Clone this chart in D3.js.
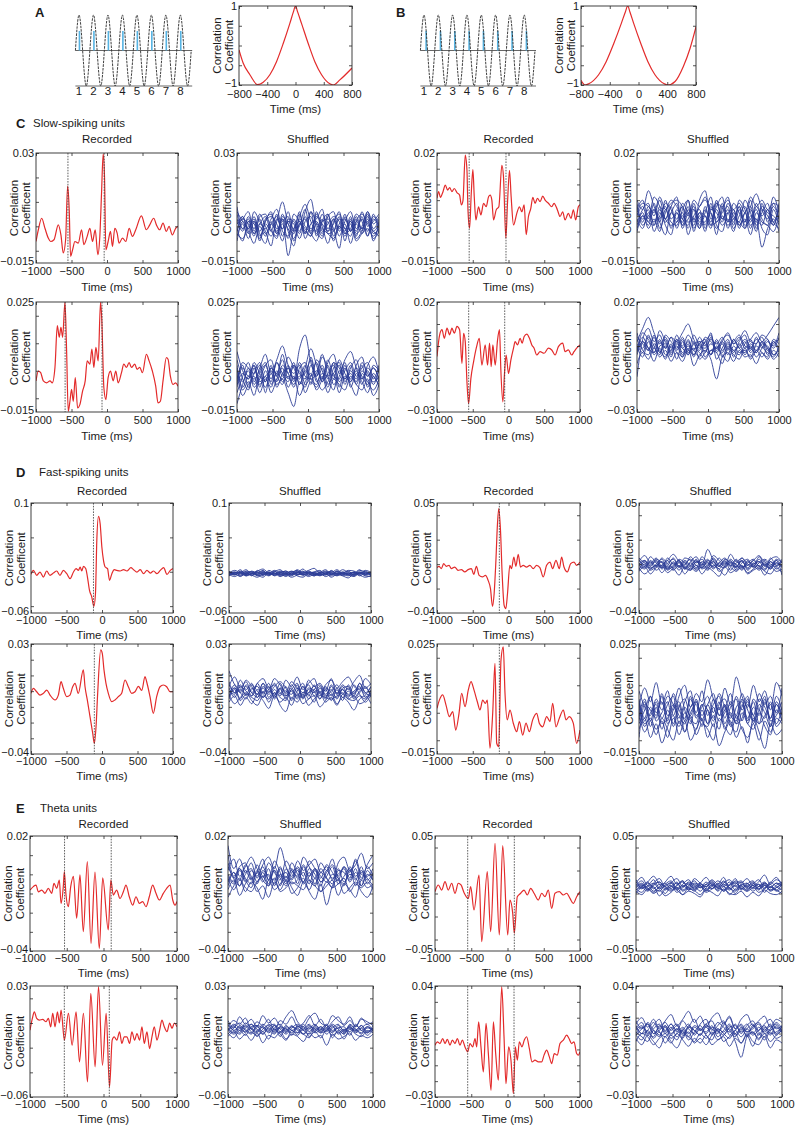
<!DOCTYPE html>
<html><head><meta charset="utf-8">
<script src="https://cdn.jsdelivr.net/npm/d3@7"></script>
<style>
body{margin:0;background:#fff;}
svg{display:block;}
</style></head><body>
<svg id="fig" width="796" height="1127"></svg>
<script>
// ================= DATA =================
// Panels A & B (schematic)
const cycleNumbers = [1,2,3,4,5,6,7,8];
const sinePhase = [0.75,1,1.25,1.5,1.75,2,2.25,2.5,2.75,3,3.25,3.5,3.75,4,4.25,4.5,4.75,5,5.25,5.5,5.75,6,6.25,6.5,6.75,7,7.25,7.5,7.75,8,8.25,8.5,8.75];
const sineValue = [0,1,0,-1,0,1,0,-1,0,1,0,-1,0,1,0,-1,0,1,0,-1,0,1,0,-1,0,1,0,-1,0,1,0,-1,0];
const spikeCyclesA = [1.03,2.03,3.03,4.03,5.03,6.03,7.03,8.03];
const spikeCyclesB = [1.15,2.15,3.15,4.15,5.15,6.15,7.15,8.15];
const spikeHeight = 0.55;
const corrA = [[-800,-0.11],[-740,-0.45],[-646,-0.74],[-538,-0.99],[-457,-0.93],[-363,-0.74],[-269,-0.41],[-174,0.05],[-80,0.56],[-30,0.85],[0,1],[30,0.85],[85,0.56],[180,0.05],[274,-0.41],[369,-0.74],[486,-0.97],[534,-1],[628,-0.87],[800,-0.57]];
const corrB = [[-800,-0.88],[-743,-1],[-693,-0.97],[-555,-0.74],[-450,-0.41],[-344,0.05],[-239,0.56],[-183,0.85],[-150,1],[-119,0.85],[-67,0.56],[32,0.05],[131,-0.41],[229,-0.74],[359,-0.97],[406,-1],[509,-0.91],[624,-0.53],[718,-0.07],[800,0.47]];
const abXTicks = [-800,-400,0,400,800];
const abXTickLabels = ["\u2212800","\u2212400","0","400","800"];
const abYTickLabels = ["1","\u22121"];

// Panels C-E: time ticks
const xTicks = [-1000,-500,0,500,1000];
const xTickLabels = ["\u22121000","\u2212500","0","500","1000"];
const VALUE_UNIT = 0.001; // trace values below are in units of 1e-3

// Recorded traces [time ms, value x1e-3]
const recC11 = [[-1000,-6.2],[-967,-1.4],[-920,3.3],[-874,-0.8],[-827,-4.8],[-794,-6.2],[-747,-5.5],[-686,0.6],[-649,-3.5],[-616,-10.9],[-583,-5.5],[-555,16.5],[-532,6.7],[-513,-12.3],[-485,-9.6],[-452,-6.2],[-405,-6.9],[-358,-1.4],[-326,-7.5],[-279,-4.1],[-241,-0.8],[-204,-6.2],[-166,-1.4],[-129,-11.6],[-101,-4.1],[-77,13.5],[-54,29.7],[-35,20.2],[-16,-9.6],[16,-6.2],[49,-2.1],[77,-8.2],[110,-0.8],[143,-2.8],[171,-6.9],[218,-4.8],[265,-6.2],[312,-0.8],[358,-4.1],[405,-1.4],[485,4.3],[555,-1.4],[602,0.6],[658,3.3],[696,0.6],[742,-1.4],[789,1.3],[836,-2.1],[874,0],[920,-3.5],[967,-0.8],[1000,0]];
const recC13 = [[-1000,5.6],[-977,7.7],[-953,5.9],[-916,7.7],[-884,9.8],[-851,8.2],[-823,9],[-791,7.7],[-758,8.7],[-721,7.4],[-684,6.6],[-660,3.5],[-637,4.8],[-605,19.3],[-581,14.5],[-567,1.9],[-544,-3.9],[-521,7.1],[-498,14.7],[-479,6.1],[-456,-1.3],[-419,2.9],[-386,0.3],[-349,4],[-312,2.9],[-279,6.1],[-256,6.6],[-233,5],[-209,-1.3],[-172,1.9],[-135,2.9],[-93,16.1],[-70,12.4],[-37,-7.1],[-14,4],[14,14.5],[37,6.1],[70,-2.9],[116,0.8],[153,2.9],[186,1.3],[219,3.5],[247,-6],[279,-0.2],[312,2.4],[340,5.9],[372,4],[405,5.6],[442,4.5],[479,6.3],[512,5],[558,4],[605,2.9],[637,4],[684,1.9],[721,-0.2],[758,1.3],[791,-1.3],[837,0.8],[874,-0.8],[907,1.9],[940,-1.3],[977,2.9],[1000,3.5]];
const recC21 = [[-1000,-3.7],[-967,-0.1],[-934,-0.7],[-897,-3.7],[-850,-4.4],[-803,-3.7],[-771,-4.4],[-733,1.2],[-700,16.4],[-672,12.2],[-649,15.8],[-625,12.2],[-592,25],[-569,7.3],[-546,-14.7],[-522,-11.1],[-499,-6.8],[-475,-11.1],[-447,-2.5],[-414,-13.5],[-382,-12.3],[-344,-7.4],[-307,-3.7],[-279,3.6],[-241,2.4],[-213,7.9],[-185,1.2],[-157,8.5],[-124,3.6],[-91,25],[-73,18.3],[-44,-6.2],[-16,-10.5],[16,-2.5],[49,-0.1],[87,-3.7],[124,-0.1],[157,-4.4],[204,-0.7],[237,2.4],[274,1.2],[312,3],[344,1.2],[391,2.4],[424,0.5],[461,1.2],[499,-0.7],[555,6],[593,3.6],[639,-0.1],[686,-5.6],[719,-11.7],[752,-11.1],[789,-3.7],[836,4.8],[860,4.2],[892,-1.9],[930,-5],[967,-4.4],[1000,-5.6]];
const recC23 = [[-1000,-4.8],[-963,5.1],[-930,7.4],[-898,3.5],[-860,8.1],[-823,5.1],[-791,8.1],[-758,5.8],[-721,8.9],[-684,7.4],[-651,-7.9],[-628,5.8],[-605,2],[-581,-16.3],[-558,-26.2],[-526,-14.7],[-488,-7.1],[-451,-1],[-409,3.5],[-372,-8.7],[-326,0.5],[-293,-8.7],[-265,1.3],[-242,-9.4],[-219,0.5],[-186,-8.7],[-153,2.8],[-126,7.4],[-107,-10.9],[-79,-25.4],[-56,-12.5],[-33,-4.1],[0,-12.5],[33,-6.4],[70,-1],[93,2],[126,0.5],[163,3.5],[191,1.3],[219,4.3],[256,5.4],[293,3.5],[326,0.5],[358,-1],[395,-4.1],[442,-2.6],[498,-3.3],[558,-1],[605,-1.8],[651,-4.1],[698,-0.3],[758,1.3],[791,-2.6],[837,-1.8],[884,-4.1],[916,-2.6],[953,-1],[1000,0.5]];
const recD11 = [[-1000,-3.8],[-967,2],[-920,-5.2],[-873,-0.4],[-826,-7.7],[-779,1.1],[-732,-5.2],[-685,-1.9],[-638,1.1],[-591,-5.2],[-544,2],[-496,-2.8],[-449,-10.1],[-402,-0.4],[-365,4.5],[-332,2],[-308,6.9],[-285,1.1],[-261,7.9],[-228,4.5],[-205,-7.7],[-176,-27.1],[-144,-36.8],[-115,-50.4],[-92,-31.9],[-73,45.7],[-49,80.6],[-26,69.9],[-2,36],[21,16.6],[45,6.9],[78,4.5],[106,-12.5],[139,-2.8],[172,3],[209,2],[256,1.1],[304,3],[351,1.1],[407,5.9],[445,3],[492,-0.4],[539,3],[586,-2.8],[633,2],[680,-1.9],[727,1.1],[774,-2.8],[821,2],[868,5.9],[915,-3.8],[962,2],[1000,4.5]];
const recD13 = [[-1000,-2.9],[-972,-1.8],[-939,-3.7],[-907,0.4],[-869,-1.8],[-832,-1],[-799,-3.7],[-752,-2.4],[-706,-5.1],[-659,-4.5],[-612,-6.4],[-565,-4.5],[-519,-3.7],[-486,-8.4],[-449,-1.8],[-411,-9.2],[-364,-10.5],[-322,-9.2],[-285,-13.3],[-252,-20.1],[-224,-34.5],[-201,-24.2],[-178,0.4],[-154,33.1],[-136,45.4],[-112,27.6],[-89,-7.8],[-61,-33.7],[-37,-36.4],[-14,-24.2],[19,-1],[42,-3.7],[75,5.8],[103,-1.8],[136,8],[168,-2.4],[206,-1],[252,-2.4],[299,-1],[346,-3.7],[393,-1],[439,-2.9],[486,-10.5],[533,-1],[580,1.7],[617,-3.7],[664,3.1],[711,-3.7],[743,5.8],[776,-2.4],[823,-6.4],[869,0.4],[916,1.7],[953,-1],[1000,1.7]];
const recD21 = [[-1000,-1.4],[-967,1.8],[-920,-0.4],[-873,-2.5],[-826,-1.4],[-779,0.7],[-732,-2.5],[-662,-5.6],[-615,-2.5],[-577,6],[-545,1.8],[-497,-3.5],[-451,-2.5],[-413,2.8],[-380,5],[-334,-1.4],[-263,13.5],[-239,2.8],[-207,-5.6],[-169,-16.2],[-131,-26.8],[-108,-33.2],[-84,-22.6],[-61,-1.4],[-18,26.2],[4,24],[28,13.5],[56,5],[89,-1.4],[137,-6.7],[183,-5.6],[230,-3.5],[277,-1.4],[324,7.1],[371,2.8],[418,-1.4],[465,-0.4],[512,3],[560,0.5],[606,9.2],[629,6],[676,-3.5],[723,-14.1],[770,-3.5],[817,2.8],[863,3.9],[911,2.8],[958,-0.4],[1000,-0.4]];
const recD23 = [[-1000,1.6],[-967,4.6],[-920,6.5],[-874,2.8],[-828,-1.4],[-780,0.4],[-738,-6.3],[-692,-0.2],[-655,7.1],[-608,2.2],[-562,8.3],[-524,11.3],[-483,8.3],[-436,4],[-399,1],[-361,4.6],[-324,3.4],[-296,4.6],[-259,-12.9],[-221,-0.2],[-189,18],[-165,-11.1],[-137,-12.3],[-105,19.2],[-73,24],[-49,7.1],[-17,-2.6],[21,1],[67,-3.8],[115,-6.9],[152,-3.2],[199,-8.1],[245,-3.8],[291,-6.9],[338,-2.6],[394,-0.2],[431,-3.8],[478,-5.1],[534,-1.4],[580,-3.2],[618,3.4],[664,-5.1],[711,-2],[767,1],[804,-2.6],[850,-1.4],[906,-3.8],[953,-11.1],[1000,-6.3]];
const recE11 = [[-1000,-8.2],[-955,-6.4],[-918,-5.6],[-887,-9.1],[-841,-8.2],[-796,-9.9],[-751,-7.3],[-705,-9.9],[-673,-4.7],[-637,-7.3],[-601,-3],[-578,-15.1],[-547,-6.4],[-533,1.4],[-510,-10.8],[-479,-16.9],[-446,-6.4],[-410,-1],[-365,-22.9],[-320,-0.3],[-275,-29.9],[-220,6.6],[-170,-36],[-116,1.2],[-57,-38.7],[-11,-1.9],[65,-29],[100,-3],[133,-10.8],[179,-8.2],[224,-12.6],[270,-9.1],[306,-5.6],[351,-11.7],[397,-16.1],[442,-11.7],[487,-15.1],[533,-14.2],[578,-16.9],[623,-11.7],[669,-5.6],[714,-9.9],[759,-13.4],[814,-9.9],[860,-7.3],[905,-5.6],[942,-13.4],[973,-16.1],[1000,-14.2]];
const recE13 = [[-1000,1.6],[-954,7.4],[-908,3],[-862,10.3],[-817,3],[-770,8.9],[-724,0.2],[-679,8.9],[-641,7.4],[-596,0.2],[-541,-4.3],[-508,5.9],[-462,-14.3],[-393,16.1],[-356,-41.9],[-279,19],[-232,-33.2],[-172,43.6],[-113,-36.1],[-66,41.6],[3,-36.1],[34,-5.7],[72,-17.3],[94,-34.6],[135,-2.8],[182,0.2],[228,3],[273,-1.3],[320,4.5],[366,0.2],[424,-5.7],[472,0.2],[517,-2.8],[563,3],[609,-12.9],[655,0.2],[714,1.6],[770,-1.3],[816,0.2],[862,-4.3],[908,-8.6],[954,-2.8],[1000,1.6]];
const recE21 = [[-1000,-5.8],[-968,3.7],[-941,9.1],[-909,3.7],[-873,2.3],[-827,2.9],[-782,1],[-750,3.7],[-718,-3.1],[-691,7.8],[-659,-3.1],[-627,9.1],[-600,0],[-577,10.5],[-532,-13.9],[-477,7.8],[-427,-18],[-373,9.1],[-327,-31.5],[-273,7.8],[-218,-47.8],[-173,24],[-114,-35.6],[-68,29.5],[-14,-34.3],[36,7.8],[82,-51.9],[118,-13.9],[145,-11.2],[182,-13.9],[218,-7.1],[250,-16.6],[282,-11.2],[318,-11.2],[355,-16.6],[386,-7.1],[423,-13.9],[455,-8.5],[491,-13.9],[523,-3.1],[555,-16.6],[591,-7.1],[627,-20.7],[659,-11.2],[691,-3.1],[727,-13.9],[764,-5.8],[795,2.3],[827,-3.1],[864,-7.1],[900,0],[932,-4.4],[964,0],[1000,-3.1]];
const recE23 = [[-1000,2.7],[-968,4.8],[-931,3.7],[-894,6.9],[-862,3.7],[-830,6.3],[-793,2.7],[-761,5.9],[-724,3.7],[-692,6.9],[-655,2.7],[-623,5.9],[-586,1.6],[-549,-1.5],[-517,3.7],[-480,1.6],[-448,6.9],[-425,1.6],[-398,17.4],[-366,1.6],[-333,-14.2],[-296,16.4],[-264,-2.6],[-227,-25.8],[-195,17.4],[-163,-2.6],[-126,-19.4],[-80,39.6],[-48,8],[-21,-21.6],[16,1.6],[48,-6.8],[81,-27.9],[108,1.6],[136,-6.8],[163,4.8],[200,1.6],[232,5.9],[264,8],[301,0.6],[338,-7.9],[379,-6.8],[425,-7.9],[471,-7.9],[504,-3.6],[540,-0.5],[577,-4.7],[609,-8.9],[646,-2.6],[687,-3.6],[724,3.7],[770,5.9],[816,9],[848,6.9],[885,3.7],[917,4.8],[954,-2.6],[977,-3.6],[1000,-1.5]];

// Shuffled traces: values x1e-3 at shufTimes
const shufTimes = [-1000,-920,-840,-760,-680,-600,-520,-440,-360,-280,-200,-120,-40,40,120,200,280,360,440,520,600,680,760,840,920,1000];
const shufC12 = [
[3,-2,4,-1,5,0,-4,2,10,1,-3,4,9,2,-2,5,-1,3,-4,2,6,-1,3,-2,4,1],
[-4,1,-5,2,-3,-7,1,-2,3,-12,-1,2,-3,6,1,-4,2,-6,1,3,-2,4,-1,5,-3,-1],
[6,2,-1,4,-2,3,5,-1,2,4,-6,1,3,-2,4,0,-7,2,5,-1,2,-4,6,0,2,5],
[-1,-6,2,-3,1,-2,-8,3,-1,2,1,-5,2,4,-3,2,3,-1,-9,4,-2,1,-3,2,-5,-2],
[1,4,-3,6,2,-1,3,7,-2,-4,5,2,-1,-4,6,-2,1,4,2,-3,-1,5,2,-4,3,0],
[-2,3,1,-4,4,5,-1,-5,4,1,-2,6,-5,1,3,7,-3,-2,4,-6,3,-3,0,6,-1,3],
[8,-1,2,1,-5,2,4,1,-6,3,2,-3,6,11,-1,-5,4,6,-2,1,-7,2,5,1,-2,-4],
[-6,2,-2,-7,0,-4,2,-3,5,-2,-8,3,0,-3,-6,2,5,-4,0,-2,4,-5,-2,3,-6,2],
[-2,4,-1,3,-4,2,6,-3,1,-5,3,-2,4,-1,2,-3,5,-2,3,-1,-4,2,-1,4,-2,1],
[5,-1,3,-3,1,4,-2,5,-4,2,-1,5,-3,6,-4,3,-2,1,6,-3,2,-2,4,-4,5,-3],
[-3,-5,0,2,-6,1,-2,-4,3,-1,-5,1,-2,-4,1,-1,-3,-5,0,-4,1,-6,-3,-1,-4,0],
[1,3,6,-2,3,-3,1,4,-1,6,-2,0,7,-3,5,1,-2,3,-1,5,-2,3,-2,6,1,4]];
const shufC14 = [
[2,5,-1,6,3,-2,1,4,-3,2,-1,3,5,1,-4,2,6,-1,3,-2,5,-3,1,4,-2,3],
[-3,1,-4,-1,-5,2,-2,-3,1,-4,2,-1,-2,4,-3,-5,1,2,-4,1,-3,-1,-10,-4,-1,-5],
[5,2,8,3,-1,4,2,-2,4,1,-3,5,8,-1,3,6,-2,4,1,-2,3,7,2,-1,6,1],
[-1,-4,1,-2,2,-3,-6,1,-2,3,-4,0,-5,2,1,-3,-1,-5,2,-3,-1,2,-4,-6,2,-3],
[0,3,-2,4,-4,1,5,3,-1,-3,4,-2,1,6,-2,1,3,-3,5,2,-4,3,0,2,-3,4],
[4,-2,3,0,5,-1,3,6,-4,1,2,-4,3,-3,2,-2,4,0,-2,5,1,-5,4,-2,3,-1],
[-5,0,-3,2,-2,-6,1,-1,3,-6,0,2,-4,1,-6,3,-4,1,-3,-1,-6,1,-2,-3,-5,0],
[1,-1,2,-5,0,3,-4,2,-1,5,-5,1,0,-4,4,-1,2,-2,3,-4,2,-2,3,1,0,-2],
[-2,2,4,-3,1,-1,3,-4,2,5,-2,1,-3,3,-1,4,-2,2,-3,1,3,-4,2,0,-3,2],
[3,-3,0,2,-2,5,-1,1,-3,-1,3,-3,2,-2,5,-1,1,-4,0,3,-2,4,-1,-3,4,-1],
[-4,0,-2,-3,3,-1,-3,-2,0,-2,-1,-4,0,-3,-2,0,-3,-1,-2,-4,0,-1,-3,2,-2,-4],
[1,4,3,1,6,2,4,5,3,0,5,3,6,2,4,3,5,2,4,1,6,3,5,2,4,3]];
const shufC22 = [
[-8,-2,3,-4,1,6,-1,4,9,2,-3,8,13,3,-2,5,1,-3,4,-1,-4,2,5,-2,1,-3],
[4,-3,-7,1,-5,-2,-8,-3,1,-6,-2,-9,-4,-1,-7,-3,2,-5,-2,3,-6,-1,-4,-8,-2,-6],
[-12,-5,0,-6,-3,2,4,-2,6,-1,3,-5,1,8,2,-4,3,6,-1,4,7,1,-3,2,5,-1],
[2,-7,-4,-9,-2,-6,-1,-5,-3,-8,-13,-4,-6,2,-3,-7,-4,-1,-8,-2,-5,-9,-1,-4,-7,-3],
[-4,1,-2,2,-6,0,-4,3,-2,5,1,-3,2,-5,4,0,-6,1,3,-4,1,4,-3,0,-5,1],
[7,0,-3,3,-1,-4,2,-6,-1,1,-4,3,-2,-3,-1,6,-2,-7,0,-3,-1,-4,2,-6,-1,-4],
[-1,-9,-5,-2,-8,-3,-6,0,-4,-2,-6,0,-8,-4,-6,-2,-8,-3,-5,-7,-2,-5,-7,-3,-9,-5],
[-6,3,1,-1,2,-8,1,-1,4,-3,2,-1,-3,5,-2,2,-3,3,-4,0,3,-2,1,3,-3,2],
[-3,2,-6,-1,3,-4,1,-2,-5,1,-1,2,-5,-2,3,-4,-1,2,-6,1,-3,1,-2,-5,2,0],
[0,-4,1,-5,-1,2,-3,3,-1,-4,2,-5,0,-3,-5,1,-5,-1,2,-5,0,-3,3,-1,-4,-2],
[-5,-1,-3,2,-4,-2,0,-4,2,-1,-5,1,3,-2,0,-3,4,-2,-3,2,-4,0,-5,1,-2,-5],
[1,-6,-2,-3,0,3,-5,-1,-3,2,-3,-2,-1,4,-4,-1,-2,3,1,-3,2,-5,0,-2,1,-3]];
const shufC24 = [
[2,8,13,6,1,4,-1,3,0,5,1,-2,4,2,-1,3,5,1,4,-1,3,6,2,5,9,13],
[-8,-3,-6,-1,-5,-2,-7,-3,-5,-1,-9,-4,-2,-6,-15,-5,-3,-7,-2,-5,-4,-8,-3,-6,-2,-5],
[-14,3,8,2,5,-1,4,2,6,10,3,-1,2,5,-3,2,6,1,3,7,2,1,5,3,-1,4],
[0,-5,2,-4,-1,-6,0,-3,-7,-2,-4,1,-5,-2,-3,-8,-1,-4,-6,-1,-6,-2,-5,-1,-6,-3],
[4,1,-2,5,-3,3,-4,1,-1,-4,2,-6,-3,1,-1,2,-2,3,-1,-3,1,-2,2,-4,3,1],
[-3,6,3,-1,7,2,-2,5,-1,2,-2,4,0,6,-6,-1,3,-3,2,5,-2,4,-1,2,0,6],
[6,-2,-4,1,-2,-5,1,-6,2,-3,-1,-3,-6,-2,-1,-4,-7,0,-3,-2,-5,0,-3,-5,2,-3],
[-2,2,-1,-7,0,1,-3,2,-4,1,-5,2,1,-4,3,-2,1,-2,0,3,-1,-3,1,0,-4,-1],
[3,-1,5,-3,2,-1,4,-2,3,-4,1,2,-3,4,-2,1,-4,3,-1,2,-3,1,4,-2,1,3],
[-4,2,-2,4,-3,0,-5,3,-3,0,-2,-5,2,-4,0,-3,2,-5,1,-4,0,-5,-1,3,-4,-2],
[1,-3,4,0,-4,5,2,-1,4,-2,5,0,-1,3,1,4,-1,2,5,0,-1,3,0,-3,2,-1],
[-2,4,-1,-3,3,-4,-2,0,-5,3,-4,1,3,-4,2,-5,0,-2,-4,1,3,-3,2,-1,-5,0]];
const shufD12 = [
[0,-2,3,-4,1,-1,2,-5,0,3,-3,1,-1,4,-2,0,2,-4,1,-2,3,-1,-4,2,0,-3],
[-6,-3,-7,-2,-5,-8,-3,-6,-2,-7,-4,-8,-5,-3,-7,-4,-6,-2,-8,-4,-6,-9,-3,-5,-8,-5],
[-2,2,-1,3,-3,1,4,-2,2,-1,1,-3,3,-1,2,5,-2,1,-1,3,-2,2,1,-3,2,-1],
[-4,-7,-3,-6,-2,-5,-8,-1,-5,-3,-7,-2,-6,-8,-3,-6,-2,-7,-4,-6,-3,-5,-7,-2,-6,-7],
[1,-4,0,-1,-6,2,-2,0,-4,1,-1,-5,0,-2,1,-3,-1,3,-3,0,-5,0,-2,3,-4,0],
[-3,0,-5,1,-1,-3,0,-3,1,-5,-1,0,-3,-4,0,-2,-5,-1,-2,-5,0,-3,-1,-6,-2,-3],
[-5,-1,-2,-3,0,-6,-4,-1,-6,-2,1,-4,-2,1,-5,-1,0,-3,-6,1,-4,-6,0,-3,1,-6],
[-1,-5,1,-6,-3,0,-6,2,-2,-4,-5,-1,2,-6,-1,-4,-3,-5,2,-3,-2,1,-5,-1,-3,-2],
[-2,-4,-1,-5,-3,-1,-4,-2,-5,0,-3,-6,-1,-4,-2,-5,-3,0,-4,-2,-5,-3,-1,-4,-2,-5],
[-4,-1,-3,0,-5,-3,1,-4,-3,-1,-5,-2,-4,0,-3,-6,-1,-3,-4,1,-3,-2,-5,0,-4,-1],
[-1,-3,-6,-2,0,-4,-2,-5,0,-3,-2,-4,1,-3,-5,-1,-4,-2,0,-5,-2,-4,-3,-1,-5,-3],
[-5,-2,-1,-4,-3,-5,-1,-3,-2,-6,-3,0,-4,-2,-1,-3,-5,-4,-2,-3,-1,-4,-6,-2,-1,-4]];
const shufD14 = [
[4,-2,6,1,-3,5,0,3,-4,2,6,-1,12,3,-2,4,1,-3,5,0,-2,6,2,-3,4,1],
[-6,-2,-8,-3,-1,-7,-4,-9,-2,-5,-1,-8,-3,-6,-10,-2,-7,-4,-1,-8,-5,-3,-9,-2,-6,-4],
[2,7,1,5,-2,3,8,2,-1,6,1,4,-2,7,3,-1,8,2,5,-1,3,7,-2,4,6,1],
[-3,-8,-4,-1,-7,-2,-5,-1,-8,-3,-6,-2,-5,-1,-4,-9,-3,-6,-2,-7,-4,-1,-6,-8,-3,-7],
[0,3,-2,4,1,-4,2,-3,3,-1,-4,2,0,4,-1,2,-2,3,-3,1,4,-2,1,-1,3,-9],
[-1,-4,3,-2,5,0,-3,4,1,-4,2,-1,4,-3,1,5,-1,-2,3,-4,0,2,-4,5,-1,2],
[5,1,-1,2,-4,1,4,-2,5,3,-3,6,1,-2,5,0,3,-5,1,4,-3,1,4,0,-2,3],
[-4,0,-5,-2,2,-5,-1,1,-4,-1,3,-4,-1,2,-6,-2,1,0,-5,2,-1,-5,0,-4,1,-3],
[-2,3,-4,0,4,-3,1,-5,2,-2,4,-3,2,-4,1,-2,4,-1,-4,3,-2,4,-1,2,-4,0],
[1,-3,2,-5,-1,3,-4,2,-3,1,-5,0,-3,2,-2,3,-5,1,2,-3,1,-4,3,-2,1,-2],
[-5,2,0,3,-3,-1,5,-2,0,4,-1,-3,3,0,-4,1,-1,4,-2,-1,3,-2,-5,2,-1,4],
[3,-1,-3,-1,2,-4,-2,3,-3,-5,2,1,-4,5,-1,-3,2,-2,3,-5,0,2,-1,-4,3,-2]];
const shufD22 = [
[3,9,2,6,-1,5,8,2,4,-2,7,3,9,1,5,8,-1,4,7,2,6,9,3,1,8,4],
[-7,-3,-9,-4,-8,-2,-6,-11,-3,-7,-4,-9,-2,-8,-5,-3,-10,-6,-2,-8,-4,-7,-12,-5,-3,-8],
[13,4,0,7,3,-2,5,1,8,4,-1,6,2,-3,7,3,5,0,8,-2,4,1,6,10,2,5],
[-2,-8,-4,-1,-6,-9,-3,-5,-1,-9,-13,-4,-7,-2,-9,-5,-1,-7,-4,-9,-2,-5,-3,-8,-6,-1],
[0,-2,4,-3,1,3,-4,0,-2,1,-3,0,-4,3,-1,1,-3,2,-1,-4,1,-2,0,3,-4,0],
[-4,2,-1,3,-3,1,-1,5,-5,2,0,-2,4,-5,1,-1,3,-3,0,4,-2,2,-5,-1,2,-3],
[6,-1,7,1,5,-4,2,-2,3,6,2,-6,0,5,-3,4,-5,1,-6,1,-6,4,-2,5,-1,3],
[-5,1,-6,-2,-4,-6,0,-7,-1,-4,-6,1,-5,-1,-2,-7,2,-4,-5,-3,-1,-5,-6,-3,-7,-2],
[-3,4,-1,-5,2,-2,5,-4,1,-3,3,-5,2,-1,4,-3,0,-5,3,-2,1,-4,4,-2,-5,1],
[2,-4,3,0,-3,5,-2,3,-4,2,-5,4,-1,-4,2,0,-5,3,-3,2,-4,0,-3,5,-1,-3],
[-1,2,-5,4,-1,-4,3,-1,5,-1,-3,1,5,-4,-1,3,-2,-4,4,-1,3,-3,-1,2,-2,3],
[4,-1,1,-2,4,0,-4,1,-3,5,-2,2,-3,3,-5,1,4,-2,1,-5,2,3,-4,0,3,-4]];
const shufD24 = [
[2,9,4,11,3,8,-1,6,10,2,7,4,12,5,1,9,3,13,6,2,10,4,8,1,11,6],
[-6,-2,-9,-4,-11,-5,-1,-8,-3,-10,-6,-2,-9,-4,-12,-7,-3,-9,-5,-11,-2,-7,-13,-4,-8,-6],
[5,-2,6,0,4,-3,7,1,-2,5,0,8,-1,3,6,-2,4,-1,7,1,-3,5,2,-2,6,1],
[-3,4,-5,2,-6,1,-4,3,-7,0,3,-5,1,-3,2,-6,0,-4,3,-2,4,-4,-1,3,-5,-2],
[8,2,-1,5,1,6,3,-2,4,8,-1,2,6,0,7,2,-2,6,1,4,-1,7,3,6,0,9],
[0,-7,-3,-8,-2,-6,-10,-3,-7,-1,-8,-4,-6,-10,-2,-5,-8,-1,-6,-9,-4,-10,-3,-7,-2,-4],
[-9,3,1,-2,7,-1,2,9,1,-4,4,-1,3,7,-1,1,7,-2,2,6,-3,1,6,-5,3,-1],
[3,-4,-2,-6,-3,-9,-2,-5,0,-3,-6,1,-4,-1,-6,3,-4,-7,0,-4,-6,0,-5,-8,1,-3],
[-1,5,-3,4,-2,3,6,-4,2,-1,5,-3,3,-2,4,-4,2,5,-3,3,-1,-4,4,-2,3,-3],
[4,-3,2,-1,6,-4,1,4,-3,6,-2,3,-4,5,-1,3,-5,2,4,-3,5,1,-2,4,-4,2],
[-4,1,6,-3,0,4,-5,2,5,-2,-4,3,1,-5,3,5,-1,-3,5,-4,2,-1,5,-3,-1,4],
[2,-5,0,3,-4,-2,3,-1,-4,2,4,-3,-5,2,-3,0,3,-4,-2,5,-4,3,0,-5,4,-1]];
const shufE12 = [
[15,3,8,1,6,-2,5,9,3,14,4,-1,7,2,5,8,1,4,-3,6,9,2,5,11,3,6],
[-8,-3,-11,-5,-2,-9,-6,-12,-4,-8,-3,-10,-7,-2,-9,-13,-5,-16,-6,-3,-10,-7,-4,-9,-12,-6],
[2,8,-1,4,9,3,-2,6,1,-3,7,2,-1,9,4,-2,6,2,8,-1,4,1,7,-2,5,10],
[-12,-6,-2,-9,-4,-7,-13,-3,-8,-5,-1,-7,-11,-4,-8,-2,-9,-6,-3,-11,-5,-8,-12,-3,-7,-5],
[6,-2,3,-4,2,-1,4,-3,7,1,-5,3,-2,5,-1,2,-4,1,5,-2,-6,4,-1,2,-3,1],
[-4,1,-6,2,-3,5,-1,0,-5,3,-2,6,0,-4,1,-5,3,-2,-7,2,1,-3,3,-6,0,-3],
[10,-1,4,6,-2,1,8,-3,2,-6,3,-3,4,-1,7,3,-2,5,1,-3,4,-2,8,0,-1,3],
[-2,-8,-3,-7,-9,-4,-1,-6,-2,-9,-7,-4,-6,-8,-3,-6,-9,-4,-7,-5,-2,-9,-5,-7,-4,-8],
[-1,-5,2,-3,-7,1,-4,3,-6,0,-3,2,-5,4,-3,-6,1,-2,-5,3,-4,0,-2,-6,2,-3],
[4,-2,-6,0,3,-4,1,-5,2,-2,-6,1,3,-5,-1,3,-4,-1,4,-5,-1,3,-6,1,-2,-6],
[-6,1,-3,5,-1,-5,2,-1,-3,4,-4,-2,2,-4,3,0,-6,2,-2,0,3,-4,1,-3,4,-1],
[0,-4,3,-2,-5,2,-3,-6,4,-1,1,-5,-3,1,-5,3,-1,-4,0,-2,-5,2,-3,4,-5,0]];
const shufE14 = [
[9,14,7,12,5,10,15,8,11,4,13,9,6,12,8,14,5,11,9,13,7,10,16,8,12,9],
[2,-1,4,0,3,-2,1,5,-1,2,0,-3,3,1,-2,4,0,-1,2,-3,1,-2,3,0,-1,2],
[7,11,4,9,13,6,10,3,8,12,5,9,14,7,3,9,12,6,10,4,8,12,5,9,14,6],
[4,1,7,2,5,0,6,3,-1,5,2,6,1,4,8,2,5,0,6,3,7,1,4,8,2,5],
[12,6,10,15,8,3,9,13,6,10,7,2,8,11,5,10,7,13,4,8,11,6,9,3,7,10],
[0,5,2,6,-2,4,7,1,5,8,3,-1,5,9,2,6,-1,4,7,2,5,8,1,6,3,0],
[6,9,3,8,10,5,2,7,11,3,8,5,10,4,7,2,8,10,4,7,2,6,10,5,9,7],
[3,7,5,1,6,9,4,10,2,6,9,7,3,6,11,7,3,8,11,5,9,4,7,2,5,8],
[5,8,3,7,10,4,6,9,3,7,11,5,8,4,9,6,10,3,7,9,5,8,4,10,6,3],
[8,4,9,5,2,8,11,5,7,3,6,9,4,7,5,3,7,9,5,2,7,4,9,6,3,8],
[3,6,10,4,8,6,3,7,10,5,3,8,6,10,4,8,5,2,8,6,10,3,7,5,9,5],
[10,5,6,9,4,7,9,4,6,9,4,7,2,8,6,11,4,7,3,9,4,6,8,3,5,9]];
const shufE22 = [
[2,-4,5,-1,3,-3,6,0,4,-2,5,10,1,-3,4,8,0,-2,6,2,-1,5,-3,3,1,-2],
[-11,-7,-13,-9,-14,-8,-16,-10,-12,-7,-13,-9,-11,-15,-8,-12,-10,-18,-9,-13,-11,-8,-14,-10,-12,-9],
[-3,2,-1,4,-5,1,-2,3,-6,2,-1,5,-3,0,6,-2,3,-4,1,5,-2,2,-3,4,-1,1],
[-8,-12,-6,-10,-4,-11,-7,-13,-5,-9,-14,-6,-10,-3,-11,-7,-12,-5,-10,-7,-13,-5,-9,-11,-6,-8],
[-6,-2,-8,0,-4,-7,-1,-5,-9,-3,-6,-2,-8,-5,-1,-6,-3,-9,-4,-1,-7,-3,-6,-2,-8,-4],
[0,-6,-3,-8,-1,-5,-9,-3,-1,-7,-4,-10,-2,-6,-4,-8,-5,-1,-7,-4,-3,-10,-1,-6,-3,-7],
[-9,-4,0,-5,-8,-2,-4,-7,-2,-11,-3,-6,-8,-1,-7,-3,-8,-6,-2,-9,-6,-4,-7,-4,-10,-5],
[-5,-9,-4,-3,-7,-10,-5,-2,-8,-4,-8,-3,-5,-9,-12,-4,-6,-2,-12,-6,-9,-1,-5,-8,-4,-6],
[-4,-8,-2,-6,-9,-3,-7,-1,-5,-8,-2,-6,-4,-9,-3,-5,-8,-2,-6,-4,-8,-2,-5,-9,-3,-6],
[-7,-3,-6,-2,-5,-8,-3,-6,-2,-5,-9,-4,-1,-6,-9,-2,-5,-7,-3,-8,-5,-7,-2,-6,-8,-2],
[-2,-6,-9,-4,-1,-6,-3,-8,-4,-1,-7,-3,-6,-9,-5,-1,-7,-4,-8,-2,-6,-3,-8,-4,-1,-7],
[-6,-1,-4,-7,-3,-2,-9,-4,-7,-3,-5,-8,-3,-5,-2,-7,-3,-6,-1,-5,-9,-4,-6,-2,-7,-4]];
const shufE24 = [
[16,20,14,19,13,18,22,15,19,24,17,21,14,20,23,16,21,13,19,22,15,18,21,14,19,17],
[7,3,9,5,1,8,4,10,6,2,7,4,9,3,6,8,2,7,4,10,5,3,8,1,6,4],
[13,17,10,15,19,11,16,12,18,13,10,16,19,12,17,14,11,16,10,15,18,12,16,19,13,15],
[9,6,12,7,11,4,9,6,13,8,5,10,7,11,6,9,13,5,-5,8,11,7,10,5,9,12],
[18,13,16,10,14,17,12,15,9,14,19,12,16,18,11,15,20,13,16,11,14,17,12,16,10,15],
[11,8,5,12,9,14,7,10,12,6,11,15,9,6,13,10,7,12,15,8,11,6,13,9,15,11],
[5,10,8,3,7,10,5,1,8,11,4,7,3,9,12,5,8,10,4,9,2,10,6,11,7,9],
[14,10,17,12,8,15,10,13,7,15,12,9,14,10,15,18,9,12,8,13,16,9,14,12,17,13],
[12,15,9,13,16,10,14,8,12,16,9,13,11,15,8,12,16,10,13,9,15,11,8,13,16,11],
[9,13,16,10,12,15,9,13,11,8,14,12,16,9,13,11,15,9,12,16,10,14,11,15,9,13],
[15,10,12,17,11,8,13,16,10,14,12,9,15,13,10,17,12,8,14,11,13,16,10,12,14,10],
[10,14,11,8,15,12,16,11,14,10,15,13,10,14,12,9,14,15,11,13,9,12,15,10,11,14]];

// Y ranges / labels, order: [row1 unit1, row1 unit2, row2 unit1, row2 unit2]
const yDomainsC = [[-0.015,0.03],[-0.015,0.02],[-0.015,0.025],[-0.03,0.02]];
const yLabelsC = [["0.03","\u22120.015"],["0.02","\u22120.015"],["0.025","\u22120.015"],["0.02","\u22120.03"]];
const markersC = [[-550,-40],[-550,-35],[-590,-70],[-557,-53]];
const yDomainsD = [[-0.06,0.1],[-0.04,0.05],[-0.04,0.03],[-0.015,0.025]];
const yLabelsD = [["0.1","\u22120.06"],["0.05","\u22120.04"],["0.03","\u22120.04"],["0.025","\u22120.015"]];
const markersD = [[-120],[-128],[-108],[-128]];
const yDomainsE = [[-0.04,0.02],[-0.05,0.05],[-0.06,0.03],[-0.03,0.04]];
const yLabelsE = [["0.02","\u22120.04"],["0.05","\u22120.05"],["0.03","\u22120.06"],["0.04","\u22120.03"]];
const markersE = [[-530,105],[-549,94],[-533,79],[-549,90]];

const sectionTitles = {C:"Slow-spiking units", D:"Fast-spiking units", E:"Theta units"};
const columnTitles = ["Recorded","Shuffled","Recorded","Shuffled"];
const yAxisLines = ["Correlation","Coefficent"];
const xAxisTitle = "Time (ms)";

// ================= DRAWING =================
const FAMILY = '"Liberation Sans", Arial, Helvetica, sans-serif';
const FS = 11.5;     // titles, axis labels
const TFS = 11;      // tick labels
const INK = "#1b1b1b";
const AXIS = "#2a2a2a";
const RED = "#e32b2b";
const BLUE = "#2d3d96";
const CYAN = "#56b3e2";

const svg = d3.select("#fig").attr("font-family", FAMILY);
svg.append("rect").attr("width",796).attr("height",1127).attr("fill","#fff");

function addText(parent, x, y, str, o = {}) {
  return parent.append("text").attr("x", x).attr("y", y).text(str)
    .attr("font-size", o.size || FS).attr("font-weight", o.weight || "normal")
    .attr("text-anchor", o.anchor || "start").attr("fill", INK)
    .attr("dy", o.dy || null);
}

let clipCount = 0;
function drawPanel(cfg) {
  const {x0, y0, w, h} = cfg;
  const g = svg.append("g");
  const x = d3.scaleLinear().domain(cfg.xDomain).range([x0, x0 + w]);
  const y = d3.scaleLinear().domain(cfg.yDomain).range([y0 + h, y0]);
  const id = "clip" + (clipCount++);
  g.append("clipPath").attr("id", id).append("rect")
    .attr("x", x0).attr("y", y0).attr("width", w).attr("height", h);
  const plot = g.append("g").attr("clip-path", `url(#${id})`);
  const line = d3.line().x(d => x(d[0])).y(d => y(d[1])).curve(d3.curveMonotoneX);
  cfg.series.forEach(s => {
    plot.append("path").attr("d", line(s.points)).attr("fill", "none")
      .attr("stroke", s.color).attr("stroke-width", s.width)
      .attr("stroke-linejoin", "round").attr("stroke-opacity", s.opacity || 1);
  });
  (cfg.markers || []).forEach(m => {
    plot.append("line").attr("x1", x(m)).attr("x2", x(m)).attr("y1", y0).attr("y2", y0 + h)
      .attr("stroke", "#3a3a3a").attr("stroke-width", 0.8).attr("stroke-dasharray", "1.6,1.2");
  });
  const yt = y.ticks(5);
  const gb = g.append("g").attr("transform", `translate(0,${y0 + h})`)
    .call(d3.axisBottom(x).tickValues(cfg.xTicks).tickSize(-3).tickPadding(cfg.tickPad)
      .tickFormat((d, i) => cfg.xTickLabels[i]));
  const gt = g.append("g").attr("transform", `translate(0,${y0})`)
    .call(d3.axisTop(x).tickValues(cfg.xTicks).tickSize(-3).tickFormat(""));
  const gl = g.append("g").attr("transform", `translate(${x0},0)`)
    .call(d3.axisLeft(y).tickValues(yt).tickSize(-3).tickFormat(""));
  const gr = g.append("g").attr("transform", `translate(${x0 + w},0)`)
    .call(d3.axisRight(y).tickValues(yt).tickSize(-3).tickFormat(""));
  [gb, gt, gl, gr].forEach(a => {
    a.select(".domain").remove();
    a.attr("font-family", FAMILY).attr("font-size", TFS);
    a.selectAll("line").attr("stroke", AXIS).attr("stroke-width", 0.8);
    a.selectAll("text").attr("fill", INK);
  });
  g.append("rect").attr("x", x0).attr("y", y0).attr("width", w).attr("height", h)
    .attr("fill", "none").attr("stroke", AXIS).attr("stroke-width", 0.9);
  addText(g, x0 - 1.8, y(cfg.yDomain[1]) + 0.5, cfg.yTickLabels[0], {anchor: "end", dy: "0.35em", size: TFS});
  addText(g, x0 - 1.8, y(cfg.yDomain[0]) - 2, cfg.yTickLabels[1], {anchor: "end", dy: "0.35em", size: TFS});
  const cy = y0 + h / 2;
  yAxisLines.forEach((t, i) => {
    g.append("text").attr("transform", `translate(${x0 - 22 + i * 11.5},${cy}) rotate(-90)`)
      .attr("text-anchor", "middle").attr("dy", "0.35em").attr("font-size", FS)
      .attr("fill", INK).text(t);
  });
  addText(g, x0 + w / 2, y0 + h + cfg.xLabelGap, xAxisTitle, {anchor: "middle"});
  if (cfg.title) addText(g, x0 + w / 2, y0 - cfg.titleGap, cfg.title, {anchor: "middle"});
}

// ---- Panels A & B ----
function drawSchematic(letter, letterX, sx0, sx1, spikes, corr, box) {
  addText(svg, letterX, 17.3, letter, {weight: "bold", size: 13});
  const xs = d3.scaleLinear().domain([0.75, 8.75]).range([sx0, sx1]);
  const ys = d3.scaleLinear().domain([-1, 1]).range([86, 15]);
  const g = svg.append("g");
  g.append("line").attr("x1", sx0).attr("x2", sx1 + 1).attr("y1", ys(0)).attr("y2", ys(0))
    .attr("stroke", "#555").attr("stroke-width", 0.9);
  g.append("line").attr("x1", sx0).attr("x2", sx1 + 1).attr("y1", ys(-1)).attr("y2", ys(-1))
    .attr("stroke", "#555").attr("stroke-width", 0.9);
  g.selectAll("rect.spk").data(spikes).enter().append("rect").attr("class", "spk")
    .attr("x", d => xs(d) - 0.8).attr("width", 1.6)
    .attr("y", ys(spikeHeight)).attr("height", ys(0) - ys(spikeHeight))
    .attr("fill", CYAN);
  const sinePts = sinePhase.map((p, i) => [p, sineValue[i]]);
  g.append("path").attr("d", d3.line().x(d => xs(d[0])).y(d => ys(d[1])).curve(d3.curveNatural)(sinePts))
    .attr("fill", "none").attr("stroke", "#2a2a2a").attr("stroke-width", 0.9).attr("stroke-dasharray", "2.6,1");
  cycleNumbers.forEach(c => addText(g, xs(c), 95, String(c), {anchor: "middle"}));
  drawPanel({x0: box[0], y0: 6, w: box[1], h: 79, xDomain: [-800, 800], yDomain: [-1, 1],
    xTicks: abXTicks, xTickLabels: abXTickLabels, yTickLabels: abYTickLabels, tickPad: 5.5,
    xLabelGap: 28, series: [{points: corr, color: RED, width: 1.2}]});
}
drawSchematic("A", 35, 75.4, 191.2, spikeCyclesA, corrA, [239, 113]);
drawSchematic("B", 396, 420.4, 535, spikeCyclesB, corrB, [581, 115]);

// ---- Panels C, D, E ----
const sections = [
  {letter: "C", letterY: 127.5, nameX: 33, cols: [[36,142],[237,142],[437,143],[637,142]],
   rows: [[153,110],[302,110]], titleGap: 10, tickPad: 4.5, xLabelGap: 28,
   rec: [recC11, recC13, recC21, recC23], shuf: [shufC12, shufC14, shufC22, shufC24],
   yDomains: yDomainsC, yLabels: yLabelsC, markers: markersC},
  {letter: "D", letterY: 476.5, nameX: 39, cols: [[31,142],[229,142],[437,143],[639,143]],
   rows: [[503,110],[644,110]], titleGap: 8, tickPad: 3.5, xLabelGap: 25.5,
   rec: [recD11, recD13, recD21, recD23], shuf: [shufD12, shufD14, shufD22, shufD24],
   yDomains: yDomainsD, yLabels: yLabelsD, markers: markersD},
  {letter: "E", letterY: 812.5, nameX: 40, cols: [[30,147],[228,145],[435,145],[636,146]],
   rows: [[836,115],[986,111]], titleGap: 8, tickPad: 3.5, xLabelGap: 25.5,
   rec: [recE11, recE13, recE21, recE23], shuf: [shufE12, shufE14, shufE22, shufE24],
   yDomains: yDomainsE, yLabels: yLabelsE, markers: markersE}
];

sections.forEach(sec => {
  addText(svg, 16, sec.letterY, sec.letter, {weight: "bold", size: 13});
  addText(svg, sec.nameX, sec.letterY - 0.5, sectionTitles[sec.letter]);
  for (let r = 0; r < 2; r++) {
    for (let u = 0; u < 2; u++) {
      const k = r * 2 + u;
      const recPts = sec.rec[k].map(d => [d[0], d[1] * VALUE_UNIT]);
      const shufLines = sec.shuf[k].map(arr =>
        arr.map((v, i) => [shufTimes[i], v * VALUE_UNIT]).filter(d => d[0] !== undefined));
      [0, 1].forEach(s => {
        const c = u * 2 + s;
        drawPanel({
          x0: sec.cols[c][0], w: sec.cols[c][1], y0: sec.rows[r][0], h: sec.rows[r][1],
          xDomain: [-1000, 1000], yDomain: sec.yDomains[k],
          xTicks: xTicks, xTickLabels: xTickLabels, yTickLabels: sec.yLabels[k],
          tickPad: sec.tickPad, xLabelGap: sec.xLabelGap, titleGap: sec.titleGap,
          title: r === 0 ? columnTitles[c] : null,
          markers: s === 0 ? sec.markers[k] : [],
          series: s === 0 ? [{points: recPts, color: RED, width: 1.2}]
                          : shufLines.map(p => ({points: p, color: BLUE, width: 0.95, opacity: 0.95}))
        });
      });
    }
  }
});
</script>
</body></html>
